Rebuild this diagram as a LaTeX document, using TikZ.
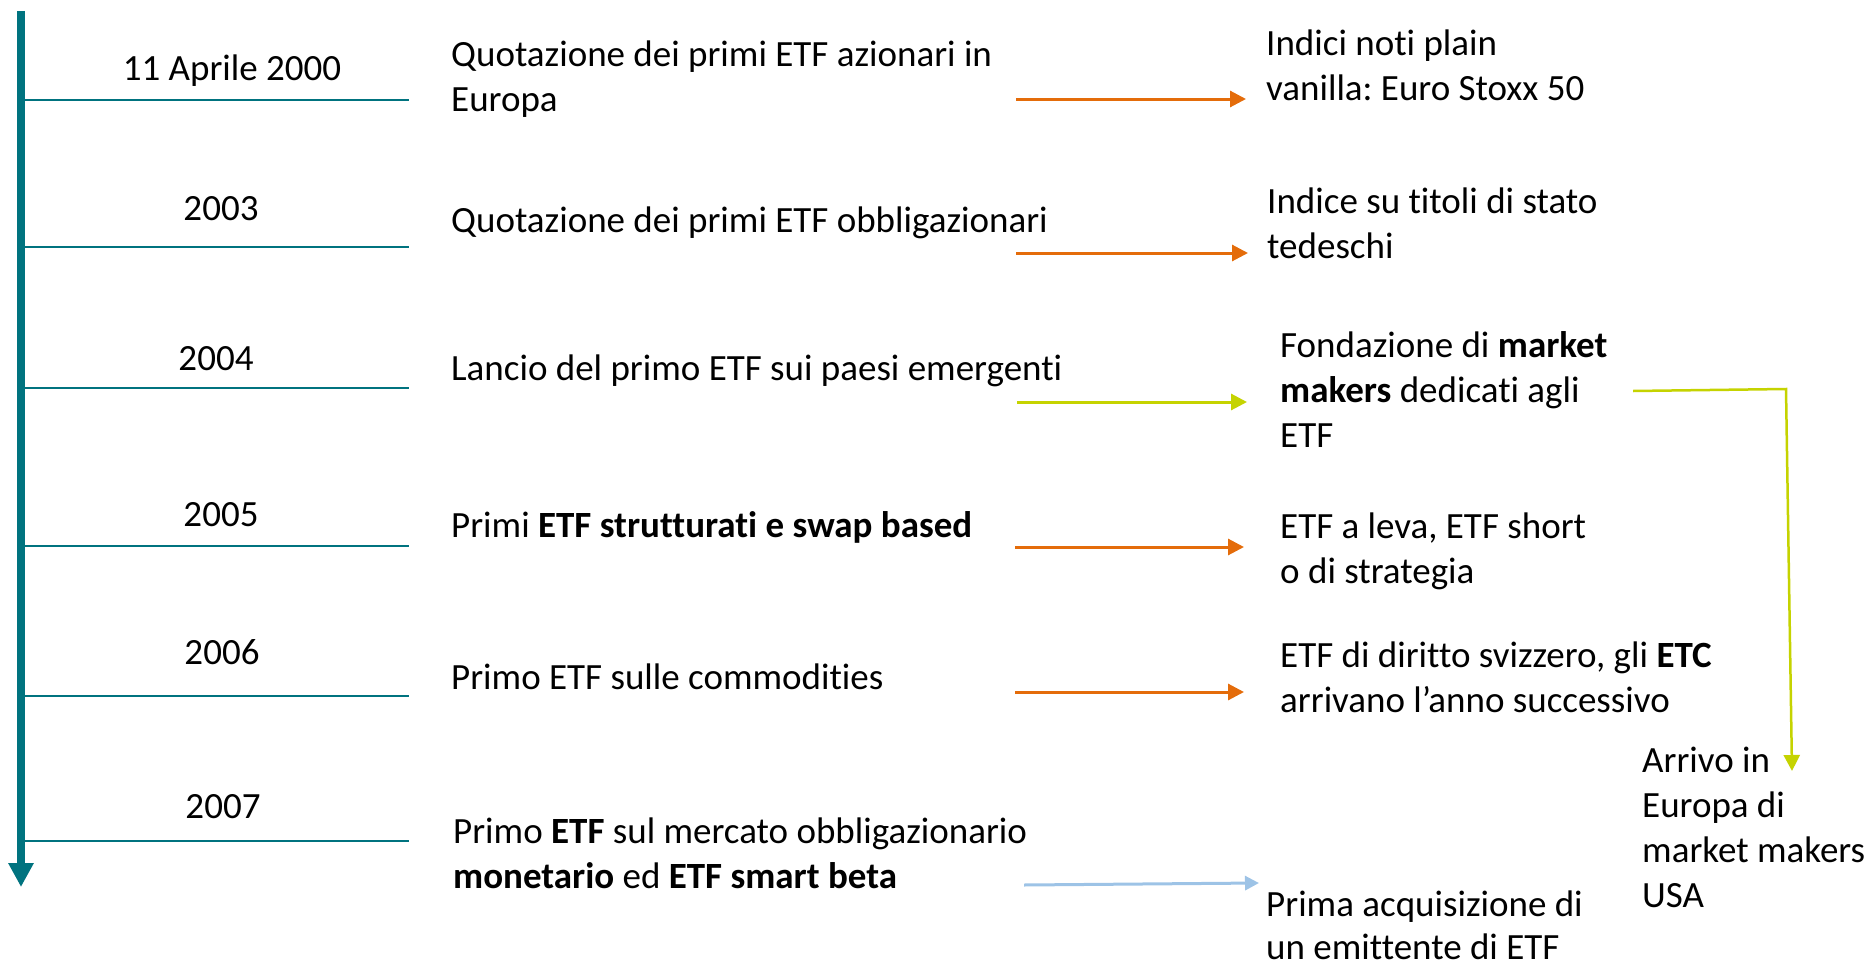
\documentclass[tikz,border=0pt]{standalone}
\usepackage{fontspec}
\setmainfont{Carlito}[Ligatures=NoCommon]
\frenchspacing
\usetikzlibrary{arrows.meta}
\definecolor{tl}{HTML}{00737F}
\definecolor{orng}{HTML}{E46C0A}
\definecolor{lime}{HTML}{C5D300}
\definecolor{lblue}{HTML}{9DC3E6}
\begin{document}
\begin{tikzpicture}[x=1pt,y=-1pt,
  txt/.style={font=\fontsize{37}{45}\selectfont, inner sep=0pt, align=left, anchor=base west},
  datelbl/.style={font=\fontsize{37}{45}\selectfont, inner sep=0pt, anchor=base},
  tick/.style={draw=tl, line width=2.5pt},
  oarr/.style={draw=orng, line width=3pt, -{Triangle[length=16pt,width=16pt]}},
  garr/.style={draw=lime, line width=3pt, -{Triangle[length=16pt,width=16pt]}},
  barr/.style={draw=lblue, line width=3pt, -{Triangle[length=14pt,width=14pt]}}]
\useasboundingbox (0,0) rectangle (1871,966);

% main timeline
\coordinate (top) at (21,11);
\coordinate (bot) at (21,887);
\draw[line width=8pt, tl, -{Triangle[length=24pt,width=24pt]}] (top) -- (bot);

% ticks
\foreach \y in {100,247,388,546,696,841}{
  \draw[tick] (25,\y) -- (409,\y);
}

% dates
\node[datelbl] (d1) at (232,81) {11 Aprile 2000};
\node[datelbl] (d2) at (221,220) {2003};
\node[datelbl] (d3) at (216,370) {2004};
\node[datelbl] (d4) at (221,526) {2005};
\node[datelbl] (d5) at (222,664) {2006};
\node[datelbl] (d6) at (223,818) {2007};

% events (anchor = baseline of the last line)
\node[txt] (e1) at (451,111) {Quotazione dei primi ETF azionari in\\Europa};
\node[txt] (e2) at (451,232) {Quotazione dei primi ETF obbligazionari};
\node[txt] (e3) at (451,380) {Lancio del primo ETF sui paesi emergenti};
\node[txt] (e4) at (451,537) {Primi \textbf{ETF strutturati e swap based}};
\node[txt] (e5) at (451,689) {Primo ETF sulle commodities};
\node[txt] (e6) at (453,888) {Primo \textbf{ETF} sul mercato obbligazionario\\\textbf{monetario} ed \textbf{ETF smart beta}};

% results (anchor = baseline of the last line)
\node[txt] (r1) at (1266,100) {Indici noti plain\\vanilla: Euro Stoxx 50};
\node[txt] (r2) at (1267,258) {Indice su titoli di stato\\tedeschi};
\node[txt] (r3) at (1280,447) {Fondazione di \textbf{market}\\\textbf{makers} dedicati agli\\ETF};
\node[txt] (r4) at (1280,583) {ETF a leva, ETF short\\o di strategia};
\node[txt] (r5) at (1280,712) {ETF di diritto svizzero, gli \textbf{ETC}\\arrivano l’anno successivo};
\node[txt, font=\fontsize{37}{43}\selectfont] (r6) at (1266,959) {Prima acquisizione di\\un emittente di ETF};
\node[txt] (r7) at (1642,907) {Arrivo in\\Europa di\\market makers\\USA};

% arrow end points
\coordinate (a1s) at (1016,99);  \coordinate (a1e) at (1246,99);
\coordinate (a2s) at (1016,253); \coordinate (a2e) at (1248,253);
\coordinate (a3s) at (1017,402); \coordinate (a3e) at (1247,402);
\coordinate (a4s) at (1015,547); \coordinate (a4e) at (1244,547);
\coordinate (a5s) at (1015,692); \coordinate (a5e) at (1244,692);
\coordinate (a6s) at (1024,885); \coordinate (a6e) at (1259,883);
\coordinate (g1) at (1633,391);
\coordinate (g2) at (1786,389);
\coordinate (g3) at (1792,771);

\draw[oarr] (a1s) -- (a1e);
\draw[oarr] (a2s) -- (a2e);
\draw[garr] (a3s) -- (a3e);
\draw[oarr] (a4s) -- (a4e);
\draw[oarr] (a5s) -- (a5e);
\draw[barr] (a6s) -- (a6e);
\draw[garr, line width=2.5pt, line join=miter] (g1) -- (g2) -- (g3);
\end{tikzpicture}
\end{document}
